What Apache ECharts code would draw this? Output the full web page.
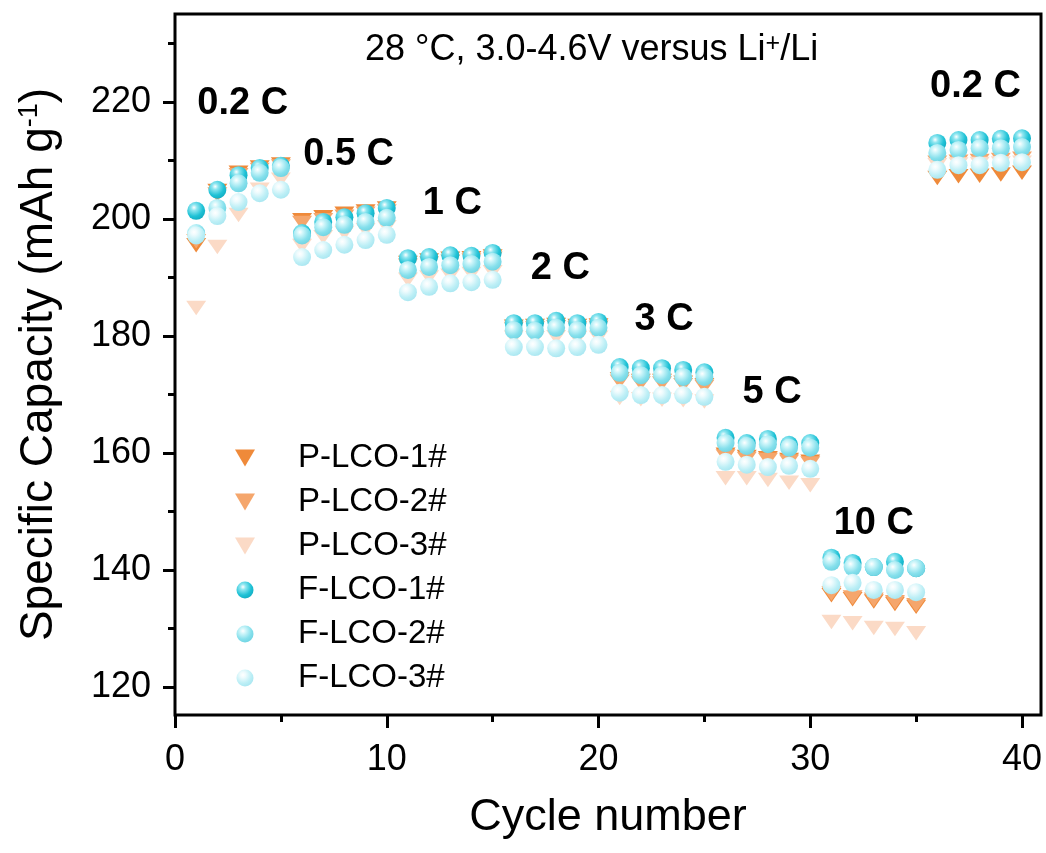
<!DOCTYPE html>
<html>
<head>
<meta charset="utf-8">
<script src="https://cdn.jsdelivr.net/npm/echarts@6/dist/echarts.min.js"></script>
<style>html,body{margin:0;padding:0;background:#fff}#c{width:1046px;height:853px}</style>
</head>
<body>
<div id="c"></div>
<script>
// ---------- data ----------
const cycles = [1,2,3,4,5,6,7,8,9,10,11,12,13,14,15,16,17,18,19,20,21,22,23,24,25,26,27,28,29,30,31,32,33,34,35,36,37,38,39,40];

const pLco1 = [195.5,204.8,207.9,208.8,209.3, 199.8,200.3,200.9,201.3,201.8, 192.5,192.9,193.2,193.3,193.6,
               181.6,181.7,181.9,181.7,181.8, 172.6,172.3,172.3,172.0,171.6, 159.7,159.3,159.1,158.8,158.5,
               135.7,135.0,134.6,134.2,133.7, 207.0,207.3,207.4,207.6,207.9];
const pLco2 = [196.2,204.2,207.5,208.4,209.0, 199.3,199.8,200.4,200.9,201.3, 192.0,192.4,192.7,192.9,193.2,
               181.2,181.3,181.5,181.3,181.4, 172.2,171.9,171.9,171.6,171.3, 159.4,159.0,158.8,158.5,158.2,
               136.0,135.3,134.9,134.5,134.0, 209.6,209.8,209.9,210.1,210.3];
const pLco3 = [184.8,195.2,200.7,205.0,206.7, 195.4,196.9,197.6,198.1,198.6, 189.6,190.0,190.3,190.6,190.9,
               179.7,179.6,179.8,179.6,179.7, 169.4,169.2,169.1,169.0,168.8, 155.7,155.7,155.4,154.9,154.5,
               131.1,130.9,130.1,129.9,129.2, 209.2,209.3,209.4,209.5,209.6];
const fLco1 = [201.4,205.0,207.5,208.7,209.1, 197.6,199.5,200.3,201.0,201.9, 193.3,193.5,193.8,193.7,194.2,
               182.2,182.2,182.6,182.2,182.4, 174.7,174.5,174.5,174.2,173.8, 162.6,161.7,162.4,161.4,161.7,
               142.1,141.2,140.5,141.4,140.3, 213.0,213.5,213.5,213.7,213.8];
const fLco2 = [197.6,201.9,206.1,207.9,208.7, 197.2,198.6,199.0,199.5,200.2, 191.3,191.8,192.1,192.3,192.7,
               181.0,180.9,181.4,181.0,181.4, 173.7,173.3,173.3,173.0,173.0, 161.7,161.2,161.5,160.9,160.9,
               141.4,140.5,140.5,140.0,140.3, 211.3,211.8,212.1,212.1,212.3];
const fLco3 = [197.2,200.5,202.9,204.4,205.0, 193.5,194.7,195.6,196.4,197.3, 187.5,188.4,189.0,189.2,189.6,
               178.1,178.1,177.9,178.1,178.5, 170.3,169.9,169.9,169.9,169.6, 158.5,158.0,157.6,157.8,157.3,
               137.4,137.8,136.6,136.6,136.2, 208.4,209.2,209.2,209.6,209.7];

const seriesNames = ['P-LCO-1#','P-LCO-2#','P-LCO-3#','F-LCO-1#','F-LCO-2#','F-LCO-3#'];

// C-rate annotations (data coordinates)
const rateLabels = ['0.2 C','0.5 C','1 C','2 C','3 C','5 C','10 C','0.2 C'];
const rateLabelX = [3.2, 8.2, 13.1, 18.2, 23.1, 28.2, 33.0, 37.8];
const rateLabelY = [219.8, 211.0, 202.7, 191.5, 182.9, 170.4, 148.0, 222.7];

const xTickValues = [0,10,20,30,40];
const yTickValues = [120,140,160,180,200,220];

// ---------- styling ----------
const FONT = 'Liberation Sans, Arial, Helvetica, sans-serif';
const TRI = 'path://M0,0L20,0L10,17Z';

function sphere(base, light, dark) {
  return {
    type: 'radial', x: 0.38, y: 0.32, r: 0.75,
    colorStops: [
      {offset: 0, color: '#ffffff'},
      {offset: 0.22, color: light},
      {offset: 0.65, color: base},
      {offset: 1, color: dark}
    ]
  };
}

const seriesStyles = [
  {symbol: TRI, size: [20, 17], color: '#EF8A3A'},
  {symbol: TRI, size: [20, 17], color: '#F5A66C'},
  {symbol: TRI, size: [20, 17], color: '#FBDAC6'},
  {symbol: 'circle', size: 18, color: sphere('#1FC2D6', '#8FE6F0', '#10A9BE')},
  {symbol: 'circle', size: 18, color: sphere('#86E0EC', '#D0F6FA', '#6CD2E1')},
  {symbol: 'circle', size: 18, color: sphere('#BDEFF6', '#EEFBFD', '#A5E5F0')}
];
const seriesValues = [pLco1, pLco2, pLco3, fLco1, fLco2, fLco3];

const series = seriesNames.map((name, i) => ({
  name: name,
  type: 'scatter',
  xAxisIndex: 0, yAxisIndex: 0,
  symbol: seriesStyles[i].symbol,
  symbolSize: seriesStyles[i].size,
  symbolKeepAspect: true,
  itemStyle: {color: seriesStyles[i].color, opacity: 1},
  clip: false,
  silent: true,
  data: cycles.map((c, k) => [c, seriesValues[i][k]])
}));

series.push({
  type: 'scatter',
  xAxisIndex: 0, yAxisIndex: 0,
  symbolSize: 0,
  clip: false,
  silent: true,
  itemStyle: {color: '#000', opacity: 0},
  label: {
    show: true, position: 'inside', formatter: '{b}',
    fontSize: 38, fontWeight: 'bold', color: '#000', fontFamily: FONT,
    textBorderWidth: 0, textBorderColor: 'transparent', opacity: 1
  },
  data: rateLabels.map((t, i) => ({name: t, value: [rateLabelX[i], rateLabelY[i]]})),
  z: 5
});

const chart = echarts.init(document.getElementById('c'), null, {renderer: 'canvas'});

const hiddenAxis = {axisLine: {show: false}, axisTick: {show: false}, axisLabel: {show: false}, splitLine: {show: false}};

chart.setOption({
  animation: false,
  backgroundColor: '#fff',
  title: {
    text: '{n|28 °C, 3.0-4.6V versus Li}{p|+}{n|/Li}',
    left: 365, top: 32, padding: 0,
    textStyle: {
      fontSize: 36, fontWeight: 'normal', color: '#000', fontFamily: FONT,
      rich: {
        n: {fontSize: 36, color: '#000', fontFamily: FONT},
        p: {fontSize: 25, lineHeight: 16, color: '#000', fontFamily: FONT, verticalAlign: 'top'}
      }
    }
  },
  legend: {
    data: seriesNames,
    orient: 'vertical',
    left: 235, top: 441,
    padding: 0,
    itemWidth: 20, itemHeight: 17, itemGap: 10,
    selectedMode: false,
    textStyle: {fontSize: 33, color: '#000', fontFamily: FONT, lineHeight: 34, padding: [0, 0, 0, 38]}
  },
  grid: [
    // data grid: x 0..40, y 120..220
    {left: 175, top: 102, width: 847, height: 585, show: false},
    // frame
    {left: 175, top: 14, width: 866, height: 701, show: true, borderColor: '#000', borderWidth: 3, backgroundColor: 'transparent'},
    // minor y ticks grid: y 120..230
    {left: 175, top: 43.5, width: 847, height: 643.5, show: false}
  ],
  xAxis: [
    {
      type: 'value', gridIndex: 0, min: 0, max: 40, interval: 10, offset: 28,
      axisLine: {show: false},
      axisTick: {show: true, length: 13, lineStyle: {color: '#000', width: 3}},
      minorTick: {show: true, splitNumber: 2, length: 7, lineStyle: {color: '#000', width: 3}},
      axisLabel: {fontSize: 36, color: '#000', fontFamily: FONT, margin: 27,
        formatter: v => xTickValues.indexOf(v) >= 0 ? String(v) : ''},
      splitLine: {show: false}
    },
    Object.assign({
      type: 'value', gridIndex: 1, min: 0, max: 1,
      name: 'Cycle number', nameLocation: 'middle', nameGap: 80,
      nameTextStyle: {fontSize: 45, color: '#000', fontFamily: FONT}
    }, hiddenAxis),
    Object.assign({type: 'value', gridIndex: 2, min: 0, max: 40}, hiddenAxis)
  ],
  yAxis: [
    {
      type: 'value', gridIndex: 0, min: 120, max: 220, interval: 20,
      axisLine: {show: false},
      axisTick: {show: true, length: 12, lineStyle: {color: '#000', width: 3}},
      axisLabel: {fontSize: 36, color: '#000', fontFamily: FONT, margin: 24,
        formatter: v => yTickValues.indexOf(v) >= 0 ? String(v) : ''},
      splitLine: {show: false}
    },
    Object.assign({
      type: 'value', gridIndex: 1, min: 0, max: 1,
      name: '{n|Specific Capacity (mAh g}{s|-1}{n|)}', nameLocation: 'middle', nameGap: 113,
      nameTextStyle: {
        fontSize: 46, color: '#000', fontFamily: FONT,
        rich: {
          n: {fontSize: 46, color: '#000', fontFamily: FONT},
          s: {fontSize: 27, color: '#000', fontFamily: FONT, verticalAlign: 'top'}
        }
      }
    }, hiddenAxis),
    {
      type: 'value', gridIndex: 2, min: 120, max: 230, interval: 10,
      axisLine: {show: false},
      axisTick: {show: true, length: 7, lineStyle: {color: '#000', width: 3}},
      axisLabel: {show: false},
      splitLine: {show: false}
    }
  ],
  series: series
});
</script>
</body>
</html>
